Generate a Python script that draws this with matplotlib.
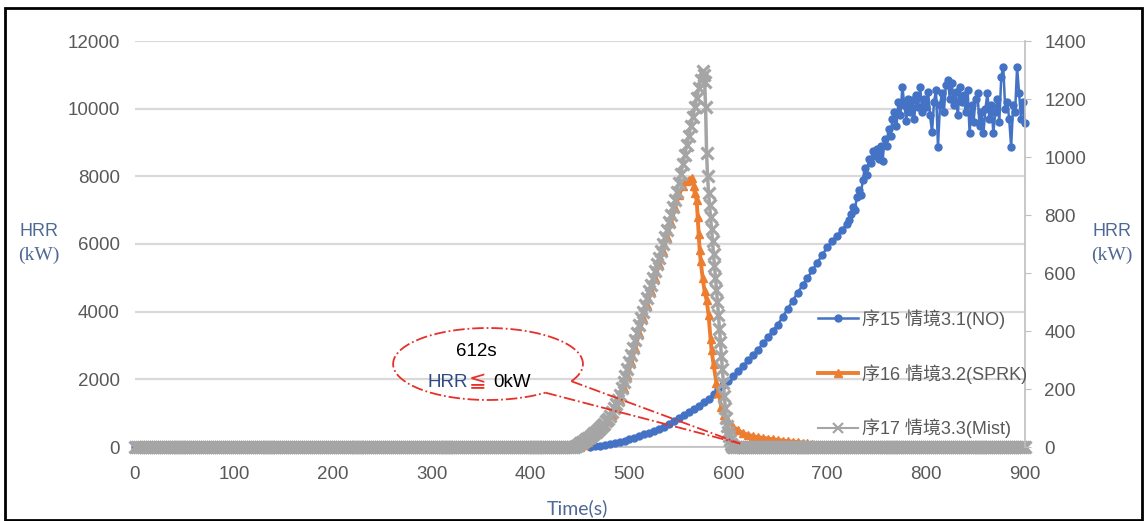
import numpy as np
import matplotlib.pyplot as plt
from matplotlib.patches import Rectangle
from matplotlib.offsetbox import TextArea, HPacker, AnnotationBbox

plt.rcParams['font.family'] = ['Liberation Sans', 'Noto Sans CJK TC', 'DejaVu Sans']

# ---------------------------------------------------------------- data
series_labels = ['序15 情境3.1(NO)', '序16 情境3.2(SPRK)', '序17 情境3.3(Mist)']

# scenario 3.1 (no suppression), time in s, HRR in kW
no_time = np.concatenate([[0], np.arange(460, 721, 5), np.arange(722, 901, 2)])
no_hrr = [
    0,
    0, 15, 30, 55, 80, 115, 150, 190, 230, 275,
    320, 370, 420, 475, 530, 600, 680, 765, 850, 940,
    1030, 1125, 1220, 1320, 1430, 1560, 1700, 1830, 1960, 2100,
    2240, 2400, 2560, 2720, 2880, 3060, 3250, 3430, 3620, 3850,
    4080, 4320, 4560, 4780, 5000, 5220, 5450, 5680, 5900, 6080,
    6250, 6420, 6600,
    6700, 6900, 7100, 7000, 7400, 7600, 7450, 7900, 8250, 8050,
    8500, 8400, 8750, 8600, 8800, 8500, 8900, 8450, 9100, 8900,
    9400, 9200, 9700, 9900, 9500, 10200, 9800, 10650, 10100, 9650,
    10300, 9900, 10250, 9700, 10400, 10050, 10650, 9900, 10300, 10050,
    10500, 9800, 9300, 10200, 10550, 8870, 10100, 10450, 9900, 10700,
    10850, 10300, 10760, 10100, 10500, 9800, 10640, 10200, 10400, 9900,
    10550, 9280, 10100, 9600, 10300, 10460, 9500, 9900, 9280, 10000,
    10460, 9700, 10100, 9280, 9900, 10300, 9600, 10940, 11230, 10000,
    10200, 9700, 8870, 10100, 9900, 11230, 10460, 9700, 10200, 9580,
]

# scenario 3.2 (sprinkler)
sprk_time = [
    0, 450, 454, 458, 462, 466, 470, 474, 478, 482,
    486, 490, 494, 498, 502, 506, 510, 514, 518, 522,
    526, 530, 534, 538, 542, 546, 550, 554, 557, 560,
    563, 565, 566, 568, 569, 570, 571, 572, 574, 576,
    578, 580, 582, 583, 585, 588, 590, 593, 596, 600,
    605, 610, 615, 620, 625, 630, 635, 640, 645, 650,
    655, 660, 665, 670, 675, 680, 685, 690, 695, 700,
    705, 710, 900,
]
sprk_hrr = [
    0, 0, 50, 150, 260, 380, 500, 620, 770, 940,
    1150, 1400, 1750, 2120, 2500, 2940, 3380, 3800, 4200, 4600,
    5000, 5400, 5800, 6200, 6620, 7050, 7450, 7700, 7850, 7900,
    7950, 7700, 7500, 7300, 6800, 6300, 5820, 5500, 5000, 4600,
    4350, 3900, 3200, 2870, 2450, 1890, 1600, 1180, 950, 760,
    600, 490, 410, 360, 320, 290, 270, 250, 230, 210,
    190, 170, 160, 150, 130, 110, 90, 70, 50, 30,
    10, 0, 0,
]

# scenario 3.3 (water mist)
mist_time = np.concatenate([
    np.arange(0, 443, 2), np.arange(444, 575, 2),
    np.arange(575, 606, 1), np.arange(606, 901, 2),
])
mist_hrr = [
    # 0 - 442 s
    0, 0, 0, 0, 0, 0, 0, 0, 0, 0, 0, 0, 0, 0, 0, 0, 0, 0, 0, 0,
    0, 0, 0, 0, 0, 0, 0, 0, 0, 0, 0, 0, 0, 0, 0, 0, 0, 0, 0, 0,
    0, 0, 0, 0, 0, 0, 0, 0, 0, 0, 0, 0, 0, 0, 0, 0, 0, 0, 0, 0,
    0, 0, 0, 0, 0, 0, 0, 0, 0, 0, 0, 0, 0, 0, 0, 0, 0, 0, 0, 0,
    0, 0, 0, 0, 0, 0, 0, 0, 0, 0, 0, 0, 0, 0, 0, 0, 0, 0, 0, 0,
    0, 0, 0, 0, 0, 0, 0, 0, 0, 0, 0, 0, 0, 0, 0, 0, 0, 0, 0, 0,
    0, 0, 0, 0, 0, 0, 0, 0, 0, 0, 0, 0, 0, 0, 0, 0, 0, 0, 0, 0,
    0, 0, 0, 0, 0, 0, 0, 0, 0, 0, 0, 0, 0, 0, 0, 0, 0, 0, 0, 0,
    0, 0, 0, 0, 0, 0, 0, 0, 0, 0, 0, 0, 0, 0, 0, 0, 0, 0, 0, 0,
    0, 0, 0, 0, 0, 0, 0, 0, 0, 0, 0, 0, 0, 0, 0, 0, 0, 0, 0, 0,
    0, 0, 0, 0, 0, 0, 0, 0, 0, 0, 0, 0, 0, 0, 0, 0, 0, 0, 0, 0,
    0, 0,
    # 444 - 574 s
    0, 30, 70, 110, 150, 190, 230, 260, 300, 350,
    400, 450, 500, 560, 620, 690, 760, 840, 920, 1030,
    1140, 1260, 1400, 1550, 1730, 1910, 2100, 2300, 2500, 2720,
    2940, 3160, 3380, 3600, 3800, 4000, 4200, 4400, 4600, 4800,
    5000, 5200, 5400, 5600, 5800, 6000, 6200, 6420, 6650, 6870,
    7090, 7310, 7550, 7800, 8080, 8360, 8640, 8920, 9200, 9480,
    9760, 10040, 10320, 10600, 10850, 11100,
    # 575 - 605 s
    11000, 10800, 10050, 8700, 8000, 7500, 7150, 6800, 6450, 6100,
    5700, 5350, 5000, 4650, 4300, 3900, 3500, 3100, 2700, 2300,
    1900, 1500, 1150, 850, 620, 450, 320, 200, 100, 40, 0,
    # 606 - 900 s
    0, 0, 0, 0, 0, 0, 0, 0, 0, 0, 0, 0, 0, 0, 0, 0, 0, 0, 0, 0,
    0, 0, 0, 0, 0, 0, 0, 0, 0, 0, 0, 0, 0, 0, 0, 0, 0, 0, 0, 0,
    0, 0, 0, 0, 0, 0, 0, 0, 0, 0, 0, 0, 0, 0, 0, 0, 0, 0, 0, 0,
    0, 0, 0, 0, 0, 0, 0, 0, 0, 0, 0, 0, 0, 0, 0, 0, 0, 0, 0, 0,
    0, 0, 0, 0, 0, 0, 0, 0, 0, 0, 0, 0, 0, 0, 0, 0, 0, 0, 0, 0,
    0, 0, 0, 0, 0, 0, 0, 0, 0, 0, 0, 0, 0, 0, 0, 0, 0, 0, 0, 0,
    0, 0, 0, 0, 0, 0, 0, 0, 0, 0, 0, 0, 0, 0, 0, 0, 0, 0, 0, 0,
    0, 0, 0, 0, 0, 0, 0, 0,
]

x_ticks = list(range(0, 901, 100))
left_ticks = list(range(0, 12001, 2000))
right_ticks = list(range(0, 1401, 200))

# annotation: time at which HRR of the mist case returns to zero
annot_time = 612
annot_hrr = 100
annot_lines = ['612s', 'HRR', '≦', '0kW']

# ---------------------------------------------------------------- style
C_NO = '#4472c4'
C_SPRK = '#ed7d31'
C_MIST = '#a5a5a5'
C_TICK = '#595959'
C_LABEL = '#4f6894'
C_GRID = '#d9d9d9'
C_RED = '#e8302a'

W, H = 1147, 521
fig = plt.figure(figsize=(W / 100, H / 100), dpi=100)
ax = fig.add_axes([135 / W, 1 - 447 / H, 890 / W, 406 / H])

# markers are drawn in full, also where they hang below the zero line
ax.plot(no_time, no_hrr, color=C_NO, lw=1.8, marker='o', ms=5,
        mec=C_NO, mfc=C_NO, zorder=3, label=series_labels[0], clip_on=False)
ax.plot(sprk_time, sprk_hrr, color=C_SPRK, lw=2.8, marker='^', ms=6,
        mec=C_SPRK, mfc=C_SPRK, zorder=4, label=series_labels[1], clip_on=False)
ax.plot(mist_time, mist_hrr, color=C_MIST, lw=2.5, marker='x', ms=8.5,
        mew=2.3, zorder=5, label=series_labels[2], clip_on=False)

ax.set_xlim(0, 900)
ax.set_ylim(0, 12000)
ax.set_xticks(x_ticks)
ax.set_yticks(left_ticks)
ax.grid(axis='y', color=C_GRID, lw=1.6, zorder=0)
ax.set_axisbelow(True)
for s in ['left', 'top', 'right']:
    ax.spines[s].set_visible(False)
ax.spines['bottom'].set_color('#bfbfbf')
ax.spines['bottom'].set_linewidth(1.2)
ax.tick_params(axis='x', length=0, pad=14, labelsize=13.5, labelcolor=C_TICK)
ax.tick_params(axis='y', length=0, pad=11, labelsize=13.5, labelcolor=C_TICK)

ax2 = ax.twinx()
ax2.set_ylim(0, 1400)
ax2.set_yticks(right_ticks)
for s in ['left', 'top', 'bottom']:
    ax2.spines[s].set_visible(False)
ax2.spines['right'].set_color('#bfbfbf')
ax2.spines['right'].set_linewidth(1.2)
ax2.tick_params(axis='y', direction='out', length=4, color='#bfbfbf',
                pad=10, labelsize=13.5, labelcolor=C_TICK)

# axis titles
for xpix in (39, 1112):
    fig.text(xpix / W, 1 - 231 / H, 'HRR', ha='center', va='center',
             fontsize=13, color=C_LABEL)
    fig.text(xpix / W, 1 - 255 / H, '(kW)', ha='center', va='center',
             fontsize=14, color=C_LABEL, family='Liberation Serif')
fig.text(577 / W, 1 - 508 / H, 'Time(s)', ha='center', va='center',
         fontsize=14, color=C_LABEL, family='Lato')

# legend
leg = ax2.legend(*ax.get_legend_handles_labels(), loc='upper left',
                 bbox_to_anchor=(818 / W, 1 - 309 / H),
                 bbox_transform=fig.transFigure, frameon=False,
                 fontsize=13, labelcolor=C_TICK, handlelength=2.2,
                 handletextpad=0.25, labelspacing=1.95, borderpad=0,
                 borderaxespad=0)
for h in leg.legend_handles:
    if h.get_marker() == 'x':
        h.set_markersize(7)
        h.set_linewidth(1.5)
        h.set_markeredgewidth(1.6)

# callout: dash-dot ellipse with a wedge pointing at the end time
cx, cy, a, b = 357, 2453, 96, 1064
theta = np.radians(np.linspace(-28.6, 307.2, 300))
ax.plot(cx + a * np.cos(theta), cy + b * np.sin(theta), color=C_RED,
        lw=1.3, ls='-.', zorder=7, clip_on=False)
for ang in (-52.8, -28.6):
    r = np.radians(ang)
    ax.plot([cx + a * np.cos(r), annot_time], [cy + b * np.sin(r), annot_hrr],
            color=C_RED, lw=1.3, ls='-.', zorder=7)

ax.text(345, 2808, annot_lines[0], ha='center', va='center', fontsize=13.5,
        color='black', zorder=8)
hrr_part = HPacker(children=[
    TextArea(annot_lines[1], textprops=dict(color='#2f4b86', fontsize=13.5)),
    TextArea(annot_lines[2], textprops=dict(color=C_RED, fontsize=15,
                                            family='DejaVu Sans')),
], align='baseline', pad=0, sep=0)
box = HPacker(children=[
    hrr_part,
    TextArea(annot_lines[3], textprops=dict(color='black', fontsize=13.5)),
], align='baseline', pad=0, sep=5)
ab = AnnotationBbox(box, (348, 1950), xycoords='data', frameon=False,
                    box_alignment=(0.5, 0.5), zorder=8)
ax.add_artist(ab)

# outer frame
fig.patches.append(Rectangle((5 / W, 1 / H), 1137 / W, 512 / H,
                             transform=fig.transFigure, fill=False,
                             edgecolor='black', lw=2))

fig.savefig('out.png', dpi=100)
